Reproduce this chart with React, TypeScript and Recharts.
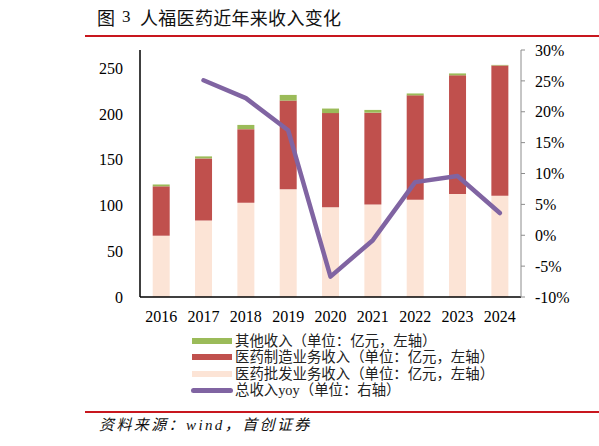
import React from "react";
import { ComposedChart, Bar, Line, XAxis, YAxis } from "recharts";

const years = ["2016", "2017", "2018", "2019", "2020", "2021", "2022", "2023", "2024"];
const wholesale = [67, 83.5, 103, 117.7, 98, 101, 106.4, 112.6, 110.8];
const manufacturing = [54, 68, 80.5, 97, 103, 100.5, 114, 129.7, 142.3];
const other = [2, 2.2, 4.6, 6.2, 5, 3, 2.1, 2.1, 0.6];
const yoy: (number | null)[] = [null, 25.1, 22.2, 17.0, -6.7, -0.8, 8.6, 9.6, 3.6];
const leftTicks = [0, 50, 100, 150, 200, 250];
const rightTicks = [-10, -5, 0, 5, 10, 15, 20, 25, 30];

const legendItems = [
  { label: "其他收入（单位：亿元，左轴）", color: "#9BBB59", kind: "bar" },
  { label: "医药制造业务收入（单位：亿元，左轴）", color: "#C0504D", kind: "bar" },
  { label: "医药批发业务收入（单位：亿元，左轴）", color: "#FCE4D6", kind: "bar" },
  { label: "总收入yoy（单位：右轴）", color: "#8064A2", kind: "line" },
];

const data = years.map((y, i) => ({
  year: y,
  wholesale: wholesale[i],
  manufacturing: manufacturing[i],
  other: other[i],
  yoy: yoy[i],
}));

const serif = '"Liberation Serif", "Noto Sans CJK SC", serif';
const cjk = '"Noto Sans CJK SC", sans-serif';

export default function App() {
  return (
    <div style={{ position: "absolute", left: 0, top: 0, width: 599, height: 446, background: "#fff", overflow: "hidden" }}>
      <div style={{ position: "absolute", left: 97, top: 8, fontFamily: cjk, fontSize: 18, lineHeight: "18px", color: "#111" }}>图</div>
      <div style={{ position: "absolute", left: 122, top: 8, fontFamily: serif, fontSize: 17, lineHeight: "18px", color: "#111" }}>3</div>
      <div style={{ position: "absolute", left: 140, top: 8, fontFamily: cjk, fontSize: 18, lineHeight: "18px", color: "#111", letterSpacing: 0.3 }}>人福医药近年来收入变化</div>
      <div style={{ position: "absolute", left: 85, top: 35, width: 514, height: 2, background: "#C8171E" }} />

      <ComposedChart
        width={599}
        height={446}
        data={data}
        margin={{ top: 50, right: 18, bottom: 119, left: 80 }}
        barCategoryGap="30%"
        style={{ position: "absolute", left: 0, top: 0 }}
      >
        <XAxis
          dataKey="year"
          axisLine={{ stroke: "#000", strokeWidth: 1.5 }}
          tickLine={false}
          tickSize={0}
          tickMargin={14}
          height={30}
          tick={{ fill: "#000", fontSize: 16, fontFamily: serif }}
          interval={0}
        />
        <YAxis
          yAxisId="left"
          orientation="left"
          width={60}
          domain={[0, 270]}
          ticks={leftTicks}
          axisLine={{ stroke: "#000", strokeWidth: 1.5 }}
          tickLine={false}
          tickSize={0}
          tickMargin={17}
          tick={{ fill: "#000", fontSize: 16, fontFamily: serif }}
        />
        <YAxis
          yAxisId="right"
          orientation="right"
          width={60}
          domain={[-10, 30]}
          ticks={rightTicks}
          tickFormatter={(v: number) => `${v}%`}
          axisLine={{ stroke: "#8C8C8C", strokeWidth: 1 }}
          tickLine={{ stroke: "#8C8C8C", strokeWidth: 1 }}
          tickSize={4}
          tickMargin={10}
          tick={{ fill: "#000", fontSize: 16, fontFamily: serif }}
        />
        <Bar yAxisId="left" dataKey="wholesale" stackId="a" fill="#FCE4D6" isAnimationActive={false} />
        <Bar yAxisId="left" dataKey="manufacturing" stackId="a" fill="#C0504D" isAnimationActive={false} />
        <Bar yAxisId="left" dataKey="other" stackId="a" fill="#9BBB59" isAnimationActive={false} />
        <Line
          yAxisId="right"
          dataKey="yoy"
          stroke="#8064A2"
          strokeWidth={4.5}
          strokeLinecap="round"
          strokeLinejoin="round"
          dot={false}
          activeDot={false}
          connectNulls={false}
          isAnimationActive={false}
        />
      </ComposedChart>

      {legendItems.map((it, i) => {
        const cy = 341 + i * 16.4;
        return (
          <div key={it.label} style={{ position: "absolute", left: 0, top: 0 }}>
            {it.kind === "bar" ? (
              <div style={{ position: "absolute", left: 192, top: cy - 3, width: 40, height: 6, background: it.color }} />
            ) : (
              <div style={{ position: "absolute", left: 191, top: cy - 2.5, width: 42, height: 5, borderRadius: 3, background: it.color }} />
            )}
            <div
              style={{
                position: "absolute",
                left: 235,
                top: cy - 8,
                height: 16,
                lineHeight: "16px",
                fontSize: 14.4,
                fontFamily: serif,
                color: "#222",
                whiteSpace: "nowrap",
              }}
            >
              {it.label}
            </div>
          </div>
        );
      })}

      <div style={{ position: "absolute", left: 85, top: 411, width: 514, height: 2, background: "#C8171E" }} />
      <div
        style={{
          position: "absolute",
          left: 99,
          top: 417,
          lineHeight: "16px",
          fontSize: 15,
          fontFamily: serif,
          fontStyle: "italic",
          color: "#111",
          whiteSpace: "nowrap",
          letterSpacing: 2.4,
        }}
      >
        资料来源：wind，首创证券
      </div>
    </div>
  );
}
